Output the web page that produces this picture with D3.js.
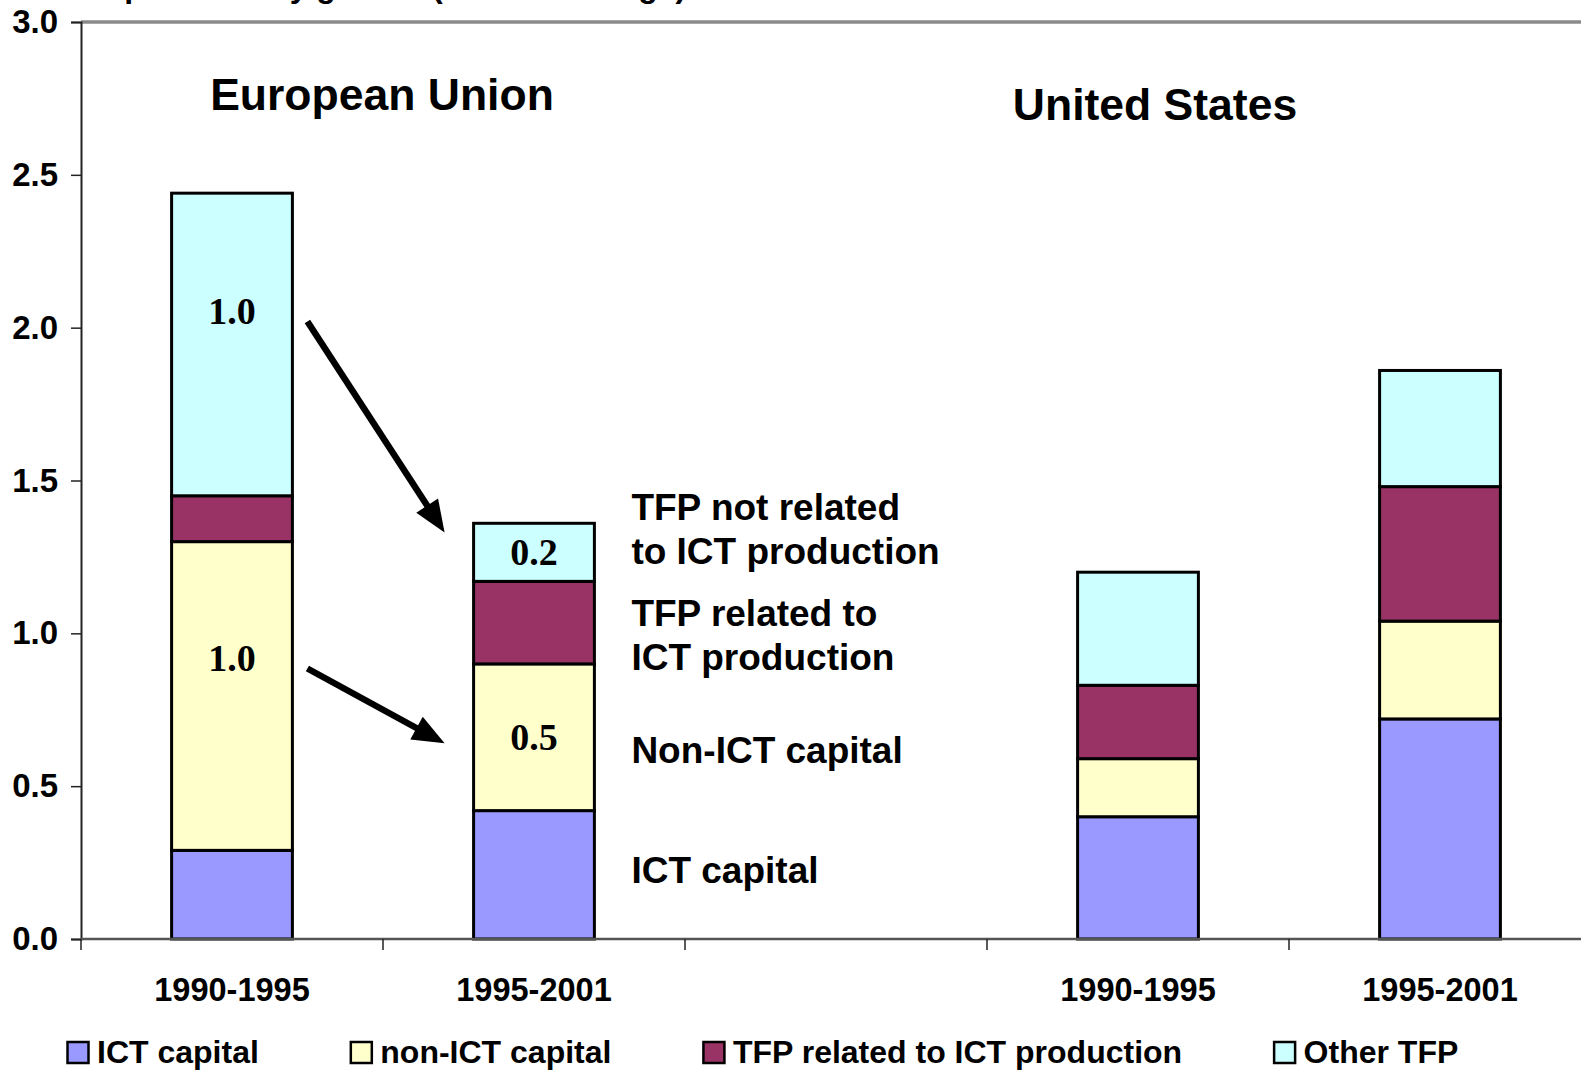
<!DOCTYPE html>
<html>
<head>
<meta charset="utf-8">
<script src="https://cdn.jsdelivr.net/npm/d3@7"></script>
<style>
  body { margin: 0; background: #fff; }
  svg text { font-family: "Liberation Sans", Arial, sans-serif; font-weight: bold; fill: #000; }
</style>
</head>
<body>
<script>
// values (percentage points)
const slots = ["EU 1990-1995", "EU 1995-2001", "gap", "US 1990-1995", "US 1995-2001"];
const periodLabels = ["1990-1995", "1995-2001", "", "1990-1995", "1995-2001"];
const seriesNames = ["ICT capital", "non-ICT capital", "TFP related to ICT production", "Other TFP"];
const ictCapital = [0.29, 0.42, 0, 0.40, 0.72];
const nonIctCapital = [1.01, 0.48, 0, 0.19, 0.32];
const tfpIct = [0.15, 0.27, 0, 0.24, 0.44];
const otherTfp = [0.99, 0.19, 0, 0.37, 0.38];
const yTicks = [0, 0.5, 1, 1.5, 2, 2.5, 3];
const regions = ["European Union", "United States"];
const title = "Labour productivity growth (annual average)";
const valueLabels = [
  { slot: 0, series: 3, text: "1.0" },
  { slot: 0, series: 1, text: "1.0" },
  { slot: 1, series: 3, text: "0.2" },
  { slot: 1, series: 1, text: "0.5" }
];
const notes = [
  ["ICT capital"],
  ["Non-ICT capital"],
  ["TFP related to", "ICT production"],
  ["TFP not related", "to ICT production"]
];
// arrows from the EU 1990-95 bar to the EU 1995-2001 bar (y in data units)
const arrows = [
  { v0: 2.02, v1: 1.33 },
  { v0: 0.885, v1: 0.64 }
];

const keys = ["ict", "nonict", "tfpict", "other"];
const colors = ["#9999ff", "#ffffcc", "#993366", "#ccffff"];

const table = slots.map((s, i) => ({
  slot: s,
  ict: ictCapital[i],
  nonict: nonIctCapital[i],
  tfpict: tfpIct[i],
  other: otherTfp[i]
}));

const width = 1581;
const height = 1070;
const plotLeft = 81, plotRight = 1591, plotTop = 22, plotBottom = 939;

const svg = d3.select("body").append("svg")
  .attr("width", width)
  .attr("height", height);

const x = d3.scaleBand()
  .domain(slots)
  .range([plotLeft, plotRight])
  .paddingInner(0.6)
  .paddingOuter(0.3);

const y = d3.scaleLinear().domain([0, 3]).range([plotBottom, plotTop]);

// heading, cut off by the top edge of the picture
svg.append("text")
  .attr("x", 7)
  .attr("y", -3.5)
  .attr("font-size", 32)
  .text(title);

// plot area top border
svg.append("line")
  .attr("x1", plotLeft).attr("x2", width)
  .attr("y1", plotTop).attr("y2", plotTop)
  .attr("stroke", "#8a8a8a")
  .attr("stroke-width", 3.5);

// stacked bars
const stacked = d3.stack().keys(keys)(table);

svg.append("g")
  .selectAll("g")
  .data(stacked)
  .join("g")
  .attr("fill", (d, i) => colors[i])
  .selectAll("rect")
  .data((d) => d.filter((p) => p[1] > p[0]))
  .join("rect")
  .attr("x", (d) => x(d.data.slot))
  .attr("y", (d) => y(d[1]))
  .attr("width", x.bandwidth())
  .attr("height", (d) => y(d[0]) - y(d[1]))
  .attr("stroke", "#000")
  .attr("stroke-width", 3);

// y axis
const yAxis = d3.axisLeft(y)
  .tickValues(yTicks)
  .tickFormat(d3.format(".1f"))
  .tickSize(10)
  .tickPadding(13);

const yg = svg.append("g")
  .attr("transform", `translate(${plotLeft},0)`)
  .call(yAxis);
yg.select(".domain").attr("stroke", "#222").attr("stroke-width", 2);
yg.selectAll(".tick line").attr("stroke", "#222").attr("stroke-width", 1.5);
yg.selectAll(".tick text").style("font-size", "33px");

// x axis line and boundary ticks
svg.append("line")
  .attr("x1", plotLeft).attr("x2", width)
  .attr("y1", plotBottom).attr("y2", plotBottom)
  .attr("stroke", "#555")
  .attr("stroke-width", 2.5);

svg.append("g")
  .selectAll("line")
  .data(d3.range(slots.length + 1))
  .join("line")
  .attr("x1", (i) => plotLeft + i * x.step())
  .attr("x2", (i) => plotLeft + i * x.step())
  .attr("y1", plotBottom)
  .attr("y2", plotBottom + 11)
  .attr("stroke", "#222")
  .attr("stroke-width", 1.5);

svg.append("g")
  .selectAll("text")
  .data(slots)
  .join("text")
  .attr("x", (s) => x(s) + x.bandwidth() / 2)
  .attr("y", 1001)
  .attr("text-anchor", "middle")
  .attr("font-size", 32.5)
  .text((s, i) => periodLabels[i]);

// region headings
svg.append("text")
  .attr("x", plotLeft + x.step() - 1)
  .attr("y", 110)
  .attr("text-anchor", "middle")
  .attr("font-size", 44.5)
  .text(regions[0]);

svg.append("text")
  .attr("x", x(slots[3]) + x.bandwidth() / 2 + 17)
  .attr("y", 120)
  .attr("text-anchor", "middle")
  .attr("font-size", 44.5)
  .text(regions[1]);

// value labels inside the EU bars
const labelShift = [-33, -38, 0, 0];
svg.append("g")
  .selectAll("text")
  .data(valueLabels)
  .join("text")
  .attr("x", (d) => x(slots[d.slot]) + x.bandwidth() / 2)
  .attr("y", (d, i) => {
    const seg = stacked[d.series][d.slot];
    return (y(seg[0]) + y(seg[1])) / 2 + labelShift[i] + 13;
  })
  .attr("text-anchor", "middle")
  .style("font-family", "'Liberation Serif', 'Times New Roman', serif")
  .attr("font-size", 38)
  .text((d) => d.text);

// notes to the right of the EU 1995-2001 bar
const noteShift = [-5, 12.5, 12.5, -23];
const noteX = x(slots[1]) + x.bandwidth() + 37;
notes.forEach((lines, k) => {
  const seg = stacked[k][1];
  const mid = (y(seg[0]) + y(seg[1])) / 2 + noteShift[k];
  const lineGap = 44;
  const first = mid - (lines.length - 1) * lineGap / 2;
  lines.forEach((t, j) => {
    svg.append("text")
      .attr("x", noteX)
      .attr("y", first + j * lineGap + 13)
      .attr("font-size", 37)
      .text(t);
  });
});

// arrows
const headLen = 32, headHalf = 13;
arrows.forEach((a) => {
  const sx = x(slots[0]) + x.bandwidth() + 15;
  const ex = x(slots[1]) - 29;
  const sy = y(a.v0), ey = y(a.v1);
  const len = Math.hypot(ex - sx, ey - sy);
  const ux = (ex - sx) / len, uy = (ey - sy) / len;
  const bx = ex - ux * headLen, by = ey - uy * headLen;
  svg.append("line")
    .attr("x1", sx).attr("y1", sy)
    .attr("x2", bx + ux * 2).attr("y2", by + uy * 2)
    .attr("stroke", "#000")
    .attr("stroke-width", 6.5);
  svg.append("polygon")
    .attr("points", [
      [ex, ey],
      [bx - uy * headHalf, by + ux * headHalf],
      [bx + uy * headHalf, by - ux * headHalf]
    ].map((p) => p.join(",")).join(" "))
    .attr("fill", "#000");
});

// legend
const legend = svg.append("g");
let lx = 67.5;
seriesNames.forEach((name, i) => {
  legend.append("rect")
    .attr("x", lx)
    .attr("y", 1042)
    .attr("width", 21)
    .attr("height", 21)
    .attr("fill", colors[i])
    .attr("stroke", "#000")
    .attr("stroke-width", 2.5);
  const t = legend.append("text")
    .attr("x", lx + 29.5)
    .attr("y", 1063)
    .attr("font-size", 32)
    .text(name);
  lx += 29.5 + t.node().getComputedTextLength() + 92;
});
</script>
</body>
</html>
